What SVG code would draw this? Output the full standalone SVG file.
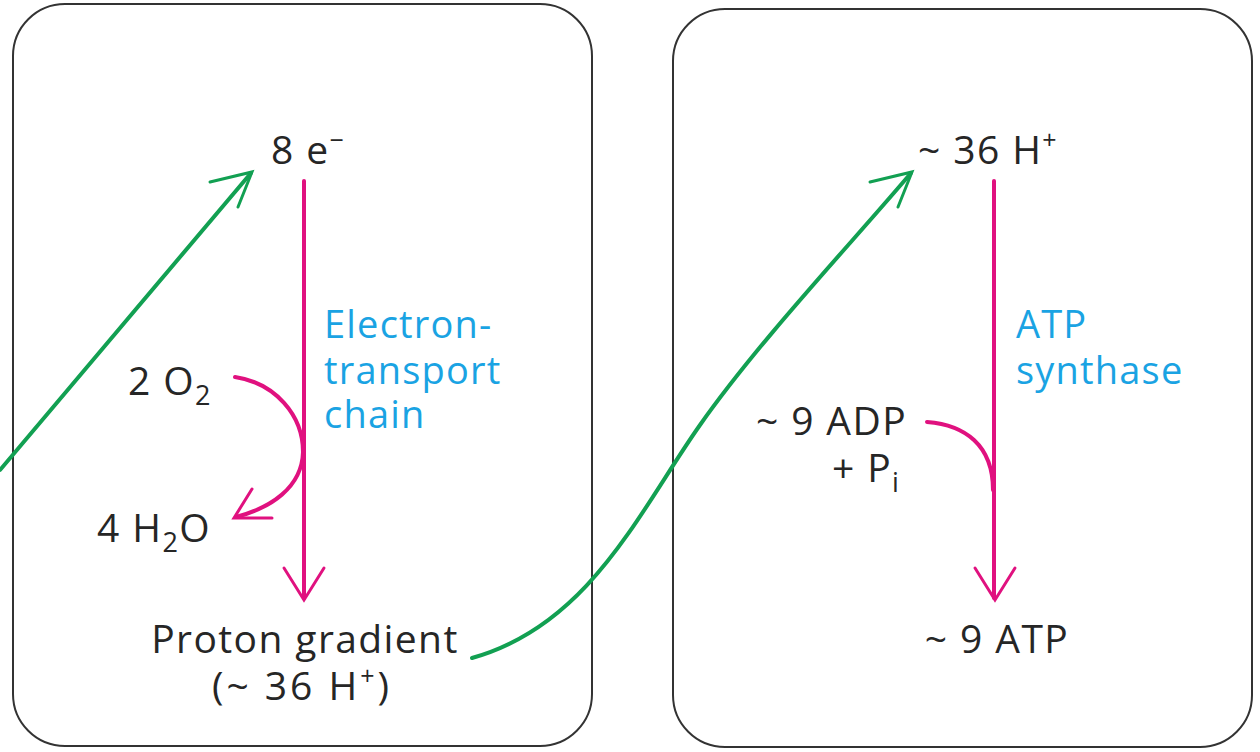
<svg xmlns="http://www.w3.org/2000/svg" width="1260" height="752" viewBox="0 0 1260 752">
<style>
.box{fill:none;stroke:#333;stroke-width:2}
.t{font-family:"Open Sans","Liberation Sans",sans-serif;font-size:39px;font-weight:500;letter-spacing:1.4px;fill:#262626}
.b{font-family:"Open Sans","Liberation Sans",sans-serif;font-size:38px;font-weight:500;letter-spacing:1.2px;fill:#1aa3e3}
.m{fill:none;stroke:#e0117f;stroke-width:4;stroke-linecap:round;stroke-linejoin:round}
.g{fill:none;stroke:#12a052;stroke-width:4;stroke-linecap:round;stroke-linejoin:round}
.gh{fill:none;stroke:#12a052;stroke-width:3;stroke-linecap:round;stroke-linejoin:miter}
.mh{fill:none;stroke:#e0117f;stroke-width:3;stroke-linecap:round;stroke-linejoin:miter}
</style>
<rect width="1260" height="752" fill="#fff"/>
<g id="left-box">
<rect class="box" x="13" y="4" width="579" height="742" rx="52" ry="52"/>
<text class="t" x="271" y="164">8 e<tspan dy="-15" font-size="25">−</tspan></text>
<text class="t" x="128" y="395">2 O<tspan dy="10" font-size="27">2</tspan></text>
<text class="t" x="97" y="542">4 H<tspan dy="10" font-size="27">2</tspan><tspan dy="-10">O</tspan></text>
<text class="b" x="324" y="338">Electron-</text>
<text class="b" x="324" y="384">transport</text>
<text class="b" x="324" y="428">chain</text>
<text class="t" x="305" y="653" text-anchor="middle">Proton gradient</text>
<text class="t" x="302" y="700" text-anchor="middle" style="letter-spacing:3px">(~ 36 H<tspan dy="-15" font-size="25">+</tspan><tspan dy="15">)</tspan></text>
</g>
<g id="right-box">
<rect class="box" x="673" y="9" width="579" height="738" rx="52" ry="52"/>
<text class="t" x="918" y="164">~ 36 H<tspan dy="-15" font-size="25">+</tspan></text>
<text class="b" x="1016" y="338">ATP</text>
<text class="b" x="1016" y="384">synthase</text>
<text class="t" x="907" y="435" text-anchor="end">~ 9 ADP</text>
<text class="t" x="832" y="482">+ P<tspan dy="10" font-size="27">i</tspan></text>
<text class="t" x="997" y="653" text-anchor="middle">~ 9 ATP</text>
</g>
<g id="connectors">
<path class="m" d="M304,181 V598"/>
<path class="mh" d="M284,568 L304,600 L324,568"/>
<path class="m" d="M235,377 C275,383 303,415 303,452 C302,488 270,508 236,517"/>
<path class="mh" d="M252,489 L234,518 L272,518"/>
<path class="m" d="M994,181 V598"/>
<path class="mh" d="M975,568 L995,600 L1015,568"/>
<path class="m" d="M927,422 C965,425 993,445 993,490"/>
<path class="g" d="M0,470 L251,173"/>
<path class="gh" d="M210,182 L252,172 L238,207"/>
<path class="g" d="M472,658 C590,625 640,510 700,425 S850,245 911,173"/>
<path class="gh" d="M870,182 L912,172 L898,207"/>
</g>
</svg>
